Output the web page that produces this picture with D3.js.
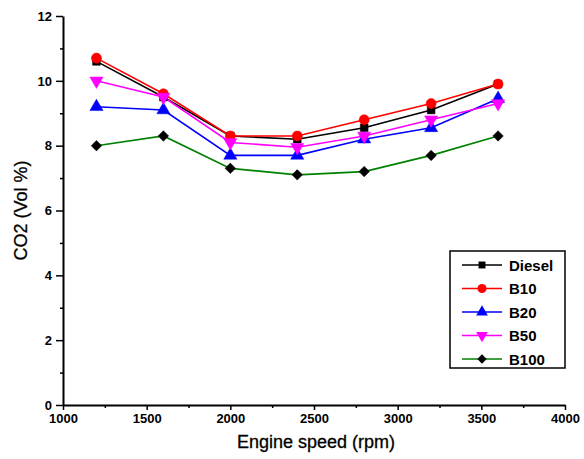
<!DOCTYPE html>
<html><head><meta charset="utf-8">
<script src="https://cdn.jsdelivr.net/npm/d3@7"></script>
<style>body{margin:0;background:#fff}svg{display:block}text{font-family:"Liberation Sans",Arial,sans-serif}</style>
</head><body>
<script>
const speeds = [1200, 1600, 2000, 2400, 2800, 3200, 3600];
const diesel = [10.6, 9.5, 8.3, 8.2, 8.55, 9.1, 9.9];
const b10 = [10.7, 9.6, 8.3, 8.3, 8.8, 9.3, 9.9];
const b20 = [9.2, 9.1, 7.7, 7.7, 8.2, 8.55, 9.45];
const b50 = [10.0, 9.5, 8.1, 7.95, 8.3, 8.8, 9.3];
const b100 = [8.0, 8.3, 7.3, 7.1, 7.2, 7.7, 8.3];
const seriesNames = ["Diesel", "B10", "B20", "B50", "B100"];
const xTicks = [1000, 1500, 2000, 2500, 3000, 3500, 4000];
const yTicks = [0, 2, 4, 6, 8, 10, 12];

const series = [
  {name: seriesNames[0], vals: diesel, line: "#000", fill: "#000", sym: d3.symbolSquare, size: 60},
  {name: seriesNames[1], vals: b10, line: "#ff0000", fill: "#ff0000", sym: d3.symbolCircle, size: 80},
  {name: seriesNames[2], vals: b20, line: "#0000ff", fill: "#0000ff", sym: d3.symbolTriangle, size: 75},
  {name: seriesNames[3], vals: b50, line: "#ff00ff", fill: "#ff00ff", sym: d3.symbolTriangle, size: 75, rot: 180},
  {name: seriesNames[4], vals: b100, line: "#008000", fill: "#000", sym: d3.symbolSquare, size: 55, rot: 45}
];

const W = 584, H = 459;
const svg = d3.select("body").append("svg").attr("width", W).attr("height", H);
const x = d3.scaleLinear().domain([1000, 4000]).range([63, 565]);
const y = d3.scaleLinear().domain([0, 12]).range([405, 16]);

// axes
const xAxis = d3.axisBottom(x).tickValues(xTicks).tickSize(5).tickSizeOuter(0).tickPadding(4).tickFormat(d3.format("d"));
svg.append("g").attr("transform", `translate(0,${y(0)})`).call(xAxis);
const xMinor = d3.axisBottom(x).tickValues(d3.range(1250, 4000, 500)).tickSize(3).tickSizeOuter(0).tickFormat("");
svg.append("g").attr("transform", `translate(0,${y(0)})`).call(xMinor).select(".domain").remove();

const yAxis = d3.axisLeft(y).tickValues(yTicks).tickSize(7).tickSizeOuter(0).tickPadding(4).tickFormat(d3.format("d"));
svg.append("g").attr("transform", `translate(${x(1000)},0)`).call(yAxis);
const yMinor = d3.axisLeft(y).tickValues(d3.range(1, 12, 2)).tickSize(3).tickSizeOuter(0).tickFormat("");
svg.append("g").attr("transform", `translate(${x(1000)},0)`).call(yMinor).select(".domain").remove();

svg.selectAll(".domain").attr("stroke", "#000").attr("stroke-width", 2);
svg.selectAll(".tick line").attr("stroke", "#000").attr("stroke-width", 1.5);
svg.selectAll(".tick text").attr("font-size", 13).attr("font-weight", "bold").attr("fill", "#000")
  .attr("font-family", "'Liberation Sans', Arial, sans-serif");

// axis titles
svg.append("text").attr("x", (x(1000) + x(4000)) / 2 + 2).attr("y", 448).attr("text-anchor", "middle")
  .attr("font-size", 18).attr("fill", "#000").attr("stroke", "#000").attr("stroke-width", 0.3).text("Engine speed (rpm)");
svg.append("text").attr("transform", `translate(27,${y(6)}) rotate(-90)`).attr("text-anchor", "middle")
  .attr("font-size", 18).attr("fill", "#000").attr("stroke", "#000").attr("stroke-width", 0.3).text("CO2 (Vol %)");

// lines and markers
const line = d3.line().x((d, i) => x(speeds[i])).y(d => y(d));
series.forEach(s => {
  svg.append("path").datum(s.vals).attr("d", line).attr("fill", "none")
    .attr("stroke", s.line).attr("stroke-width", 1.6);
});
series.forEach(s => {
  svg.selectAll(null).data(s.vals).enter().append("path")
    .attr("d", d3.symbol().type(s.sym).size(s.size))
    .attr("transform", (d, i) => `translate(${x(speeds[i])},${y(d)})${s.rot ? " rotate(" + s.rot + ")" : ""}`)
    .attr("fill", s.fill).attr("stroke", s.fill).attr("stroke-width", 0.5);
});

// legend
const lg = svg.append("g");
lg.append("rect").attr("x", 450).attr("y", 251).attr("width", 115).attr("height", 117)
  .attr("fill", "#fff").attr("stroke", "#000").attr("stroke-width", 1.5);
series.forEach((s, i) => {
  const cy = 265 + i * 23.5;
  lg.append("line").attr("x1", 462).attr("x2", 502).attr("y1", cy).attr("y2", cy)
    .attr("stroke", s.line).attr("stroke-width", 1.6);
  lg.append("path").attr("d", d3.symbol().type(s.sym).size(s.size * 0.8))
    .attr("transform", `translate(482,${cy})${s.rot ? " rotate(" + s.rot + ")" : ""}`)
    .attr("fill", s.fill);
  lg.append("text").attr("x", 509).attr("y", cy + 5.5).attr("font-size", 15).attr("font-weight", "bold")
    .attr("fill", "#000").text(s.name);
});
</script>
</body></html>
